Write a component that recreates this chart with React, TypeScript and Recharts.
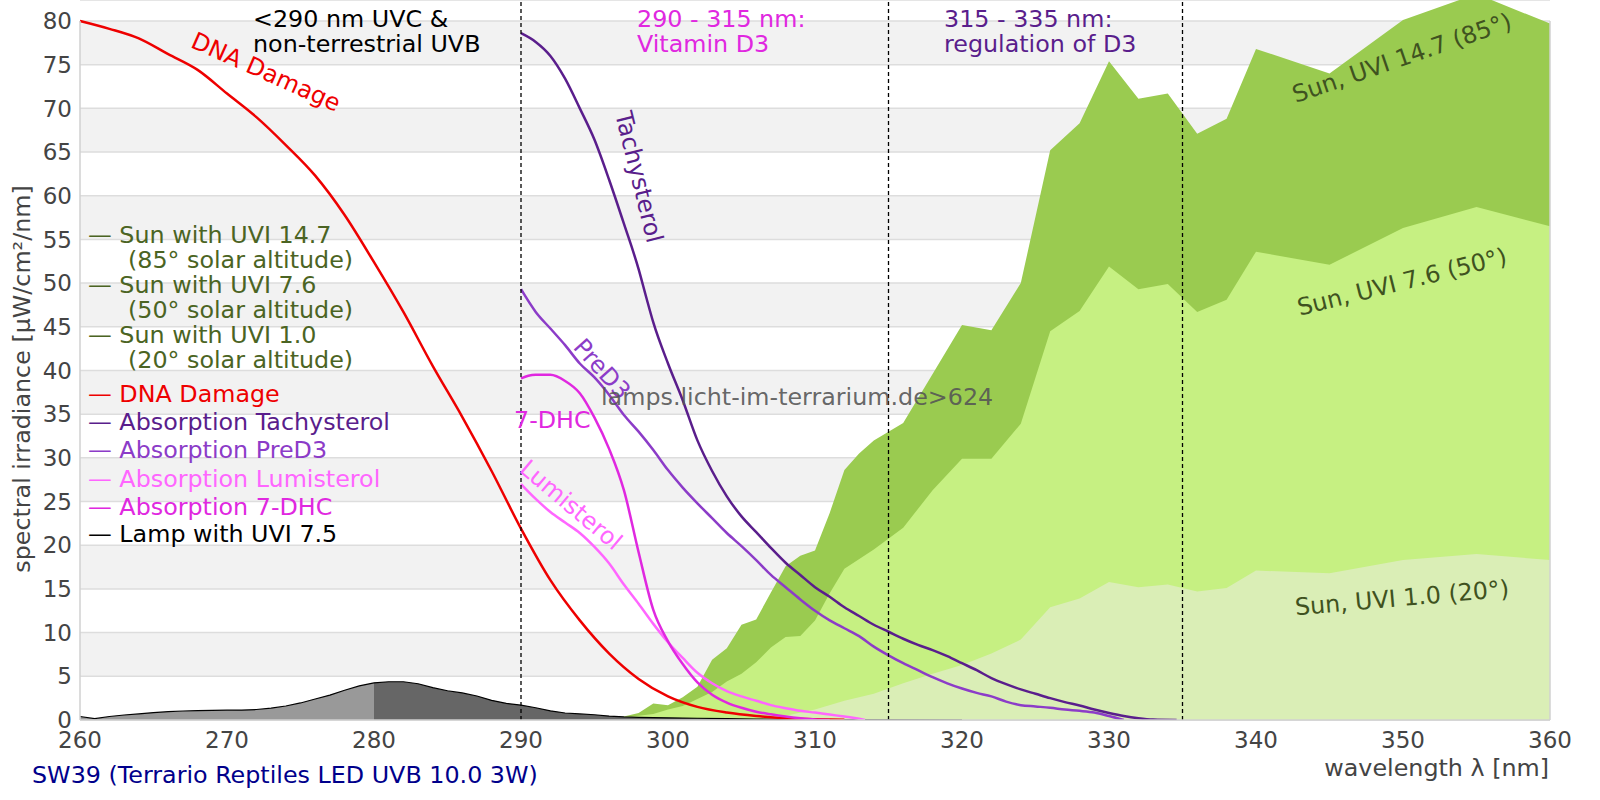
import React from "react";
import {
  ComposedChart,
  Area,
  Line,
  XAxis,
  YAxis,
  CartesianGrid,
  ReferenceLine,
} from "recharts";

// ---------- data ----------
const xTicks = [260, 270, 280, 290, 300, 310, 320, 330, 340, 350, 360];
const yTicks = [0, 5, 10, 15, 20, 25, 30, 35, 40, 45, 50, 55, 60, 65, 70, 75, 80];
const regionLines = [290, 315, 335];

const dnaNm = [260, 262, 264, 266, 268, 270, 272, 274, 276, 278, 280, 282, 284, 286, 288, 290, 292, 294, 296, 298, 300, 302, 304, 306, 308, 310, 312];
const dnaVal = [80, 79.1, 78.0, 76.2, 74.4, 71.7, 69.0, 65.8, 62.3, 57.8, 52.4, 46.7, 40.5, 34.7, 28.5, 21.9, 16.0, 11.4, 7.6, 4.7, 2.7, 1.5, 0.85, 0.45, 0.2, 0.08, 0.02];

const tachNm = [290, 291, 292, 293, 294, 295, 296, 297, 298, 298.5, 299, 300, 301, 302, 303, 304, 305, 306, 307, 308, 309, 310, 311, 312, 313, 314, 315, 316, 317, 318, 319, 320, 321, 322, 323, 324, 325, 326, 327, 328, 329, 330, 331, 332, 333, 334.6];
const tachVal = [78.6, 77.6, 76.0, 73.4, 70.0, 66.4, 61.8, 56.8, 51.6, 48.5, 45.5, 40.8, 36.6, 32.0, 28.5, 25.6, 23.3, 21.5, 19.7, 18.0, 16.6, 15.2, 14.1, 12.9, 11.9, 10.9, 10.1, 9.3, 8.6, 8.0, 7.3, 6.5, 5.7, 4.8, 4.1, 3.5, 3.0, 2.5, 2.05, 1.65, 1.2, 0.8, 0.45, 0.2, 0.05, 0];

const predNm = [290, 291, 292, 293, 294, 295, 296, 297, 298, 299, 300, 301, 302, 303, 304, 305, 306, 307, 308, 309, 310, 311, 312, 313, 314, 315, 316, 317, 318, 319, 320, 321, 322, 323, 324, 325, 326, 327, 328, 329, 330, 331];
const predVal = [49.3, 46.7, 44.8, 42.9, 40.8, 39.2, 37.2, 34.9, 33.0, 30.9, 28.6, 26.6, 24.8, 23.1, 21.4, 19.9, 18.3, 16.6, 15.2, 13.8, 12.5, 11.4, 10.5, 9.6, 8.4, 7.4, 6.5, 5.7, 4.9, 4.2, 3.6, 3.1, 2.7, 2.1, 1.7, 1.55, 1.4, 1.2, 1.05, 0.85, 0.45, 0];

const lumiNm = [290, 291, 292, 293, 294, 295, 296, 297, 298, 299, 300, 301, 302, 303, 304, 305, 306, 307, 308, 309, 310, 311, 312, 313, 313.4];
const lumiVal = [27.0, 25.3, 23.8, 22.6, 21.4, 19.8, 17.9, 15.5, 13.3, 11.0, 8.9, 7.1, 5.4, 4.2, 3.3, 2.7, 2.2, 1.7, 1.35, 1.05, 0.85, 0.62, 0.4, 0.15, 0];

const dhcNm = [290, 290.5, 291, 292, 293, 294, 295, 296, 297, 298, 299, 300, 301, 302, 303, 304, 305, 306, 307, 308, 309, 310, 311];
const dhcVal = [39.1, 39.4, 39.5, 39.5, 38.8, 37.4, 34.6, 31.0, 26.3, 19.2, 12.6, 9.0, 6.4, 4.3, 2.9, 2.0, 1.4, 0.95, 0.65, 0.4, 0.2, 0.05, 0];

const lampNm = [260, 261, 262, 263, 264, 265, 266, 267, 268, 269, 270, 271, 272, 273, 274, 275, 276, 277, 278, 279, 280, 281, 282, 283, 284, 285, 286, 287, 288, 289, 290, 291, 292, 293, 294, 295, 296, 297, 298, 300, 302, 304, 306, 308, 310, 314, 320];
const lampVal = [0.4, 0.15, 0.4, 0.57, 0.7, 0.85, 0.95, 1.03, 1.08, 1.1, 1.12, 1.14, 1.2, 1.35, 1.6, 1.95, 2.4, 2.85, 3.4, 3.9, 4.25, 4.38, 4.38, 4.15, 3.7, 3.35, 3.1, 2.75, 2.25, 1.9, 1.7, 1.4, 1.05, 0.8, 0.7, 0.6, 0.45, 0.35, 0.3, 0.25, 0.2, 0.15, 0.1, 0.07, 0.05, 0.02, 0];
const lampSplitNm = 280;

const sun147Nm = [296, 297, 298, 299, 300, 301, 302, 303, 304, 305, 306, 307, 308, 309, 310, 311, 312, 313, 314, 316, 320, 322, 324, 326, 328, 330, 332, 334, 336, 338, 340, 345, 350, 355, 360];
const sun147Val = [0, 0.4, 0.8, 1.9, 1.7, 2.6, 3.8, 6.9, 8.2, 10.9, 11.5, 14.6, 17.6, 18.8, 19.4, 23.7, 28.6, 30.5, 32.0, 34.0, 45.2, 44.6, 50.0, 65.2, 68.3, 75.4, 71.1, 71.7, 67.1, 68.8, 76.8, 74.0, 80.1, 83.1, 79.7];

const sun76Nm = [294, 296, 298, 299, 300, 301, 302, 303, 304, 305, 306, 307, 308, 309, 310, 311, 312, 314, 316, 318, 320, 322, 324, 326, 328, 330, 332, 334, 336, 338, 340, 345, 350, 355, 360];
const sun76Val = [0, 0.2, 0.5, 0.7, 1.2, 1.6, 2.4, 3.2, 4.4, 5.3, 6.6, 8.3, 9.5, 9.6, 11.4, 14.5, 17.3, 19.5, 22.0, 26.3, 29.9, 29.9, 33.9, 44.5, 46.8, 51.9, 49.3, 49.9, 46.7, 48.1, 53.6, 52.1, 56.3, 58.7, 56.5];

const sun10Nm = [305, 307, 308, 310, 312, 314, 316, 318, 320, 322, 324, 326, 328, 330, 332, 334, 336, 338, 340, 345, 350, 355, 360];
const sun10Val = [0, 0.2, 0.5, 1.2, 2.2, 3.0, 4.2, 5.3, 6.3, 7.6, 9.2, 12.9, 13.9, 15.8, 15.2, 15.5, 14.7, 15.1, 17.1, 16.8, 18.3, 19.0, 18.3];

const legendLabels = [
  "— Sun with UVI 14.7", "(85° solar altitude)",
  "— Sun with UVI 7.6", "(50° solar altitude)",
  "— Sun with UVI 1.0", "(20° solar altitude)",
  "— DNA Damage", "— Absorption Tachysterol", "— Absorption PreD3",
  "— Absorption Lumisterol", "— Absorption 7-DHC", "— Lamp with UVI 7.5",
];

// ---------- helpers ----------
const toRows = (nm: number[], val: number[]) => nm.map((x, i) => ({ nm: x, v: val[i] }));
const dnaData = toRows(dnaNm, dnaVal);
const tachData = toRows(tachNm, tachVal);
const predData = toRows(predNm, predVal);
const lumiData = toRows(lumiNm, lumiVal);
const dhcData = toRows(dhcNm, dhcVal);
const lampAll = toRows(lampNm, lampVal);
const lampUvc = lampAll.filter((r) => r.nm <= lampSplitNm);
const lampUvb = lampAll.filter((r) => r.nm >= lampSplitNm);
const sun147Data = toRows(sun147Nm, sun147Val);
const sun76Data = toRows(sun76Nm, sun76Val);
const sun10Data = toRows(sun10Nm, sun10Val);

// ---------- styles ----------
const FONT = "'DejaVu Sans', sans-serif";
const FS = 23.8;
const C = {
  dna: "#ee0000",
  tach: "#5a1e8c",
  pred: "#8c3cc8",
  lumi: "#ff66ff",
  dhc: "#e028e0",
  lamp: "#000000",
  sunText: "#4b6423",
  sunLabel: "#3f5220",
  sun147: "#9acb50",
  sun76: "#c6f082",
  sun10: "#daeeb6",
  axis: "#444444",
  grid: "#dddddd",
};

const legendColors = [
  C.sunText, C.sunText, C.sunText, C.sunText, C.sunText, C.sunText,
  C.dna, C.tach, C.pred, C.lumi, C.dhc, C.lamp,
];
const legendX = [88, 128, 88, 128, 88, 128, 88, 88, 88, 88, 88, 88];
const legendY = [243, 268, 293, 318, 343, 368, 402, 429.5, 458, 486.5, 514.5, 542];

export default function App() {
  return (
    <div style={{ position: "absolute", left: 0, top: 0, width: 1600, height: 800, background: "#fff" }}>
      <ComposedChart
        width={1600}
        height={800}
        margin={{ top: 0, right: 50, bottom: 0, left: 0 }}
        style={{ fontFamily: FONT }}
      >
        <CartesianGrid
          vertical={false}
          stroke={C.grid}
          strokeWidth={1.5}
          horizontalFill={["#ffffff", "#f2f2f2"]}
        />
        <XAxis
          type="number"
          dataKey="nm"
          domain={[260, 360]}
          ticks={xTicks}
          height={80}
          tickLine={false}
          tickMargin={6}
          axisLine={{ stroke: "#d0d0d0", strokeWidth: 1.5 }}
          tick={{ fontSize: 23, fill: C.axis, fontFamily: FONT }}
          interval={0}
        />
        <YAxis
          type="number"
          domain={[0, 82.4]}
          allowDataOverflow
          ticks={yTicks}
          width={80}
          tickLine={false}
          axisLine={false}
          tick={{ fontSize: 23, fill: C.axis, fontFamily: FONT }}
          interval={0}
        />

        <Area data={sun147Data} dataKey="v" type="linear" stroke="none" fill={C.sun147} fillOpacity={1} isAnimationActive={false} />
        <Area data={sun76Data} dataKey="v" type="linear" stroke="none" fill={C.sun76} fillOpacity={1} isAnimationActive={false} />
        <Area data={sun10Data} dataKey="v" type="linear" stroke="none" fill={C.sun10} fillOpacity={1} isAnimationActive={false} />

        <Area data={lampUvc} dataKey="v" type="linear" stroke="#000" strokeWidth={1.2} fill="#999999" fillOpacity={1} isAnimationActive={false} />
        <Area data={lampUvb} dataKey="v" type="linear" stroke="#000" strokeWidth={1.2} fill="#666666" fillOpacity={1} isAnimationActive={false} />

        <Line data={dnaData} dataKey="v" type="monotone" stroke={C.dna} strokeWidth={2.5} dot={false} activeDot={false} isAnimationActive={false} />
        <Line data={lumiData} dataKey="v" type="monotone" stroke={C.lumi} strokeWidth={2.5} dot={false} activeDot={false} isAnimationActive={false} />
        <Line data={dhcData} dataKey="v" type="monotone" stroke={C.dhc} strokeWidth={2.5} dot={false} activeDot={false} isAnimationActive={false} />
        <Line data={predData} dataKey="v" type="monotone" stroke={C.pred} strokeWidth={2.5} dot={false} activeDot={false} isAnimationActive={false} />
        <Line data={tachData} dataKey="v" type="monotone" stroke={C.tach} strokeWidth={2.5} dot={false} activeDot={false} isAnimationActive={false} />

        <ReferenceLine segment={[{ x: 260, y: 0 }, { x: 260, y: 80 }]} stroke="#d0d0d0" strokeWidth={1.5} />
        <ReferenceLine segment={[{ x: 360, y: 0 }, { x: 360, y: 80 }]} stroke="#d0d0d0" strokeWidth={1.5} />
        {regionLines.map((x) => (
          <ReferenceLine key={x} x={x} stroke="#000" strokeWidth={1.3} strokeDasharray="4 3" />
        ))}
      </ComposedChart>

      <svg
        width={1600}
        height={800}
        style={{ position: "absolute", left: 0, top: 0, pointerEvents: "none" }}
        fontFamily={FONT}
        fontSize={FS}
      >
        {/* region annotations */}
        <text x={253} y={27} fill="#000">&lt;290 nm UVC &amp;</text>
        <text x={253} y={51.5} fill="#000">non-terrestrial UVB</text>
        <text x={637} y={27} fill={C.dhc}>290 - 315 nm:</text>
        <text x={637} y={51.5} fill={C.dhc}>Vitamin D3</text>
        <text x={944} y={27} fill={C.tach}>315 - 335 nm:</text>
        <text x={944} y={51.5} fill={C.tach}>regulation of D3</text>

        {/* curve labels */}
        <text x={266} y={72} fill={C.dna} textAnchor="middle" dominantBaseline="central" transform="rotate(24 266 72)">DNA Damage</text>
        <text x={639} y={177} fill={C.tach} textAnchor="middle" dominantBaseline="central" transform="rotate(76 639 177)">Tachysterol</text>
        <text x={602} y={369} fill={C.pred} textAnchor="middle" dominantBaseline="central" transform="rotate(48 602 369)">PreD3</text>
        <text x={514} y={428} fill={C.dhc}>7-DHC</text>
        <text x={571} y={505} fill={C.lumi} textAnchor="middle" dominantBaseline="central" transform="rotate(40 571 505)">Lumisterol</text>
        <text x={1402} y={58} fill={C.sunLabel} textAnchor="middle" dominantBaseline="central" transform="rotate(-19 1402 58)">Sun, UVI 14.7 (85°)</text>
        <text x={1402} y={282} fill={C.sunLabel} textAnchor="middle" dominantBaseline="central" transform="rotate(-14 1402 282)">Sun, UVI 7.6 (50°)</text>
        <text x={1402} y={598} fill={C.sunLabel} textAnchor="middle" dominantBaseline="central" transform="rotate(-5 1402 598)">Sun, UVI 1.0 (20°)</text>

        {/* legend */}
        {legendLabels.map((t, i) => (
          <text key={i} x={legendX[i]} y={legendY[i]} fill={legendColors[i]} xmlSpace="preserve">{t}</text>
        ))}

        {/* watermark */}
        <text x={601} y={405} fill="#555555" fillOpacity={0.9}>lamps.licht-im-terrarium.de&gt;624</text>

        {/* axis titles */}
        <text x={22} y={379} fill={C.axis} textAnchor="middle" dominantBaseline="central" transform="rotate(-90 22 379)">spectral irradiance [µW/cm²/nm]</text>
        <text x={1549} y={776} fill={C.axis} textAnchor="end">wavelength λ [nm]</text>
        <text x={32} y={783} fill="#00008b">SW39 (Terrario Reptiles LED UVB 10.0 3W)</text>
      </svg>
    </div>
  );
}
